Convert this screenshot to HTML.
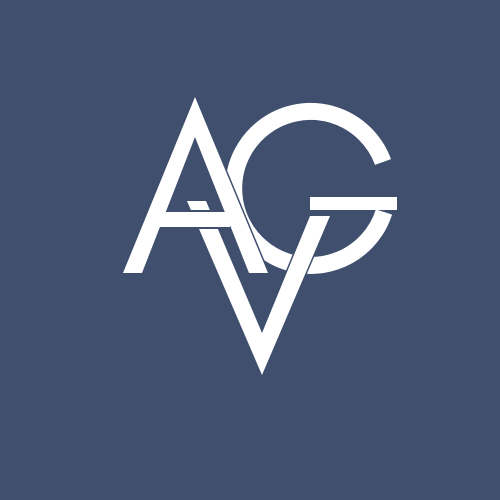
<!DOCTYPE html>
<html><head><meta charset="utf-8"><style>html,body{margin:0;padding:0;background:#3f4f6d;}svg{display:block}</style></head>
<body>
<svg width="500" height="500" viewBox="0 0 500 500">
<rect width="500" height="500" fill="#3f4f6d"/>
<g>
<path d="M383,162 A77,77 0 1 0 384,212" fill="none" stroke="#fff" stroke-width="17"/>
<rect x="310" y="197" width="87" height="13" fill="#fff"/>
</g>
<g fill="#fff" stroke="#3f4f6d" stroke-width="3" paint-order="stroke">
<polygon points="195,97 268,273 249,273 195,137 142,273 123,273"/>
</g>
<g fill="#fff" stroke="#3f4f6d" stroke-width="3" paint-order="stroke">
<polygon points="187,201 206,201 262,333 310,216 330,216 262,375"/>
</g>
<rect x="158" y="212" width="72" height="15" fill="#fff"/>
<line x1="185" y1="211" x2="212" y2="211" stroke="#3f4f6d" stroke-width="2"/>
<line x1="191" y1="228" x2="219" y2="228" stroke="#3f4f6d" stroke-width="2"/>
</svg>
</body></html>
